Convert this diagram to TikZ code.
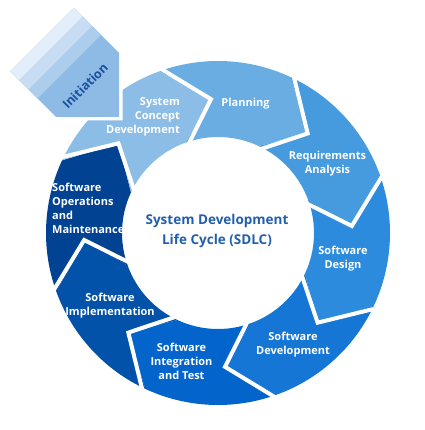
\documentclass[tikz,border=0pt]{standalone}
\usepackage{fontspec}
\setmainfont{Open Sans}
\definecolor{cPlan}{RGB}{105,173,226}
\definecolor{cReq}{RGB}{69,155,222}
\definecolor{cDes}{RGB}{44,139,221}
\definecolor{cDev}{RGB}{22,118,213}
\definecolor{cInt}{RGB}{3,101,204}
\definecolor{cImp}{RGB}{2,82,170}
\definecolor{cOps}{RGB}{2,66,146}
\definecolor{cCon}{RGB}{140,189,231}
\definecolor{cIniA}{RGB}{226,238,250}
\definecolor{cIniB}{RGB}{200,221,243}
\definecolor{cIniC}{RGB}{173,205,237}
\definecolor{cIniD}{RGB}{141,187,230}
\definecolor{cTitle}{RGB}{33,95,170}
\definecolor{cIniText}{RGB}{30,80,160}
\newcommand\sdlcseg[3]{%
  \fill[#1] (#2:172) arc[start angle=#2,end angle=#3,radius=172]
    -- ({#3-17}:134) -- (#3:96) arc[start angle=#3,end angle=#2,radius=96]
    -- ({#2-17}:134) -- cycle;}
\newcommand\sdlcgap[1]{%
  \draw[gapline] (#1:177) -- ({#1-17}:134) -- (#1:91);}
\begin{document}
\begin{tikzpicture}[x=1pt,y=1pt,
  gapline/.style={draw=white,line width=4pt,line join=miter},
  seglabel/.style={text=white,font=\bfseries\fontsize{11}{14}\selectfont,align=center,inner sep=0pt},
  titlelabel/.style={text=cTitle,font=\bfseries\fontsize{13.5}{20}\selectfont,align=center,inner sep=0pt}]
\useasboundingbox (0,0) rectangle (424,-430);
\begin{scope}[shift={(218,-233)}]
  \sdlcseg{cPlan}{110}{65}
  \sdlcseg{cReq}{65}{20}
  \sdlcseg{cDes}{20}{-25}
  \sdlcseg{cDev}{-25}{-70}
  \sdlcseg{cInt}{-70}{-115}
  \sdlcseg{cImp}{-115}{-160}
  \sdlcseg{cOps}{-160}{-205}
  \sdlcseg{cCon}{155}{110}
  \foreach \a in {110,65,20,-25,-70,-115,-160,155} {\sdlcgap{\a}}
\end{scope}
% Initiation arrow
\path[fill=white,draw=white,line width=7pt,line join=miter]
  (10.5,-71.5) -- (74,-8) -- (119,-53) -- (119,-117) -- (56,-117) -- cycle;
\begin{scope}
  \clip (10.5,-71.5) -- (74,-8) -- (119,-53) -- (119,-117) -- (56,-117) -- cycle;
  \fill[cIniD] (0,0) rectangle (130,-130);
  \fill[cIniC] (0,0) -- (136,0) -- (0,-136) -- cycle;
  \fill[cIniB] (0,0) -- (118,0) -- (0,-118) -- cycle;
  \fill[cIniA] (0,0) -- (99,0) -- (0,-99) -- cycle;
\end{scope}
\node[rotate=45,text=cIniText,font=\bfseries\fontsize{12.5}{14}\selectfont,inner sep=0pt] (ini) at (85,-86) {Initiation};
% labels
\node[seglabel] (plan) at (245.5,-104) {Planning};
\node[seglabel] (req) at (327.5,-163.5) {Requirements\\Analysis};
\node[seglabel] (des) at (343,-259) {Software\\Design};
\node[seglabel] (dev) at (293,-345) {Software\\Development};
\node[seglabel] (int) at (181.5,-361) {Software\\Integration\\and Test};
\node[seglabel] (imp) at (110,-306) {Software\\Implementation};
\node[seglabel,align=left,anchor=west] (ops) at (52,-208.5) {Software\\Operations\\and\\Maintenance};
\node[seglabel,align=right,anchor=east] (con) at (180,-117) {System\\Concept\\Development};
\node[titlelabel] (title) at (217,-230.5) {System Development\\Life Cycle (SDLC)};
\end{tikzpicture}
\end{document}
